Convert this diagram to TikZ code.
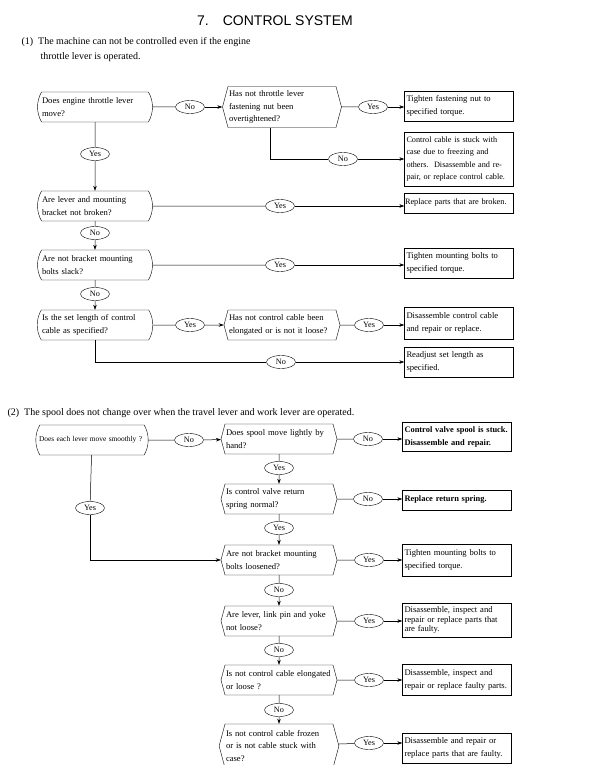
\documentclass[tikz,border=0pt]{standalone}
\usepackage{fontspec}
\setmainfont{Liberation Serif}
\newfontfamily\titlefont{Liberation Sans}
\usetikzlibrary{shapes.geometric,shapes.misc,shapes.symbols,arrows.meta}
\hyphenpenalty=10000

\begin{document}
\begin{tikzpicture}[x=1pt,y=-1pt,
  every node/.style={font=\fontsize{8.6}{12.5}\selectfont},
  ask/.style={draw,rounded rectangle,rounded rectangle arc length=60,minimum height=30pt,text width=106pt,align=left,inner xsep=3pt},
  check/.style={draw,signal,signal to=east and west,signal pointer angle=150,minimum height=30pt,text width=106pt,align=left,inner xsep=1pt},
  fix/.style={draw,rectangle,minimum height=20pt,text width=105pt,align=left,inner xsep=2pt},
  ans/.style={draw,ellipse,minimum width=29pt,minimum height=13pt,inner sep=0pt,font=\fontsize{8.2}{9}\selectfont},
  link/.style={line width=0.5pt},
  go/.style={link,-{Stealth[length=5pt,width=3.5pt]}}]
\useasboundingbox (0,0) rectangle (595,765);

\node (title) at (275,21) {\titlefont\fontsize{14}{16}\selectfont 7.\hspace{1em}CONTROL SYSTEM};

% (1) throttle
\node[anchor=west,font=\fontsize{10}{12}\selectfont] (head1a) at (18,42) {(1)\ \ The machine can not be controlled even if the engine};
\node[anchor=west,font=\fontsize{10}{12}\selectfont] (head1b) at (37,57) {throttle lever is operated.};

\node[ask] (q1) at (95,107) {Does engine throttle lever\\move?};
\node[ans] (no1) at (190,107) {No};
\node[check,minimum height=41pt] (q2) at (282,107) {Has not throttle lever\\fastening nut been\\overtightened?};
\node[ans] (yes1) at (373,107) {Yes};
\node[fix,minimum height=30pt] (fix1) at (459,106) {Tighten fastening nut to\\specified torque.};
\coordinate (q2foot) at ([xshift=-12pt]q2.south);
\node[ans] (no2) at (343,159) {No};
\node[fix,minimum height=54pt,font=\fontsize{8.2}{12.5}\selectfont] (fix2) at (459,159) {Control cable is stuck with\\case due to freezing and\\others.\ \ Disassemble and re-\\pair, or replace control cable.};

\node[ans] (yes2) at (95,154) {Yes};
\node[ask] (q3) at (95,206) {Are lever and mounting\\bracket not broken?};
\node[ans] (yes3) at (280,206) {Yes};
\node[fix,text width=108pt,inner xsep=0.5pt,font=\fontsize{8.3}{12.5}\selectfont] (fix3) at (459,203) {Replace parts that are broken.};
\node[ans] (no3) at (95,233) {No};
\node[ask] (q4) at (95,265) {Are not bracket mounting\\bolts slack?};
\node[ans] (yes4) at (280,265) {Yes};
\node[fix,minimum height=30pt] (fix4) at (459,263) {Tighten mounting bolts to\\specified torque.};
\node[ans] (no4) at (95,294) {No};
\node[ask] (q5) at (95,325) {Is the set length of control\\cable as specified?};
\node[ans] (yes5) at (190,325) {Yes};
\node[check] (q6) at (282,325) {Has not control cable been\\elongated or is not it loose?};
\node[ans] (yes6) at (369,325) {Yes};
\node[fix,minimum height=32pt] (fix5) at (459,323) {Disassemble control cable\\and repair or replace.};
\node[ans] (no5) at (281,362) {No};
\node[fix,minimum height=30pt] (fix6) at (459,362) {Readjust set length as\\specified.};

\draw[link] (q1) -- (no1);
\draw[go] (no1) -- (q2);
\draw[link] (q2) -- (yes1);
\draw[go] (yes1) -- (yes1 -| fix1.west);
\draw[link] (q2foot) |- (no2);
\draw[go] (no2) -- (no2 -| fix2.west);
\draw[link] (q1) -- (yes2);
\draw[go] (yes2) -- (q3);
\draw[link] (q3) -- (yes3);
\draw[go] (yes3) -- (yes3 -| fix3.west);
\draw[link] (q3) -- (no3);
\draw[go] (no3) -- (q4);
\draw[link] (q4) -- (yes4);
\draw[go] (yes4) -- (yes4 -| fix4.west);
\draw[link] (q4) -- (no4);
\draw[go] (no4) -- (q5);
\draw[link] (q5) -- (yes5);
\draw[go] (yes5) -- (q6);
\draw[link] (q6) -- (yes6);
\draw[go] (yes6) -- (yes6 -| fix5.west);
\draw[link] (q5.south) |- (no5);
\draw[go] (no5) -- (no5 -| fix6.west);

% (2) spool
\node[anchor=west,font=\fontsize{10}{12}\selectfont] (head2) at (4,413) {(2)\ \ The spool does not change over when the travel lever and work lever are operated.};

\node[ask,font=\fontsize{7.4}{9}\selectfont] (p1) at (92,440) {Does each lever move smoothly ?};
\node[ans] (pno1) at (189,440) {No};
\node[check] (p2) at (279,439) {Does spool move lightly by\\hand?};
\node[ans] (pno2) at (368,439) {No};
\node[fix,minimum height=29pt,font=\bfseries\fontsize{8.4}{12.5}\selectfont] (pfix1) at (457,437) {Control valve spool is stuck.\\Disassemble and repair.};
\node[ans] (pyes1) at (279,468) {Yes};
\node[check] (p3) at (279,499) {Is control valve return\\spring normal?};
\node[ans] (pno3) at (368,499) {No};
\node[fix,font=\bfseries\fontsize{8.4}{12.5}\selectfont] (pfix2) at (457,500) {Replace return spring.};
\node[ans] (pyes2) at (279,528) {Yes};
\node[ans] (pyes0) at (90,508) {Yes};
\node[check] (p4) at (279,560) {Are not bracket mounting\\bolts loosened?};
\node[ans] (pyes3) at (369,560) {Yes};
\node[fix,minimum height=32pt] (pfix3) at (457,560) {Tighten mounting bolts to\\specified torque.};
\node[ans] (pno4) at (279,590) {No};
\node[check] (p5) at (279,621) {Are lever, link pin and yoke\\not loose?};
\node[ans] (pyes4) at (369,621) {Yes};
\node[fix,minimum height=33pt,font=\fontsize{8.6}{9.5}\selectfont] (pfix4) at (457,620) {Disassemble, inspect and\\repair or replace parts that\\are faulty.};
\node[ans] (pno5) at (279,650) {No};
\node[check] (p6) at (279,680) {Is not control cable elongated\\or loose ?};
\node[ans] (pyes5) at (369,680) {Yes};
\node[fix,minimum height=31pt] (pfix5) at (457,680) {Disassemble, inspect and\\repair or replace faulty parts.};
\node[ans] (pno6) at (279,710) {No};
\node[check,minimum height=44pt] (p7) at (279,746) {Is not control cable frozen\\or is not cable stuck with\\case?};
\node[ans] (pyes6) at (369,743) {Yes};
\node[fix,minimum height=30pt] (pfix6) at (457,748) {Disassemble and repair or\\replace parts that are faulty.};

\draw[link] (p1) -- (pno1);
\draw[go] (pno1) -- (p2);
\draw[link] (p2) -- (pno2);
\draw[go] (pno2) -- (pno2 -| pfix1.west);
\draw[link] (p2) -- (pyes1);
\draw[go] (pyes1) -- (p3);
\draw[link] (p3) -- (pno3);
\draw[go] (pno3) -- (pno3 -| pfix2.west);
\draw[link] (p3) -- (pyes2);
\draw[go] (pyes2) -- (p4);
\draw[link] (p1) -- (pyes0);
\draw[go] (pyes0) |- (p4.west);
\draw[link] (p4) -- (pyes3);
\draw[go] (pyes3) -- (pyes3 -| pfix3.west);
\draw[link] (p4) -- (pno4);
\draw[go] (pno4) -- (p5);
\draw[link] (p5) -- (pyes4);
\draw[go] (pyes4) -- (pyes4 -| pfix4.west);
\draw[link] (p5) -- (pno5);
\draw[go] (pno5) -- (p6);
\draw[link] (p6) -- (pyes5);
\draw[go] (pyes5) -- (pyes5 -| pfix5.west);
\draw[link] (p6) -- (pno6);
\draw[go] (pno6) -- (p7);
\draw[link] (p7) -- (pyes6);
\draw[go] (pyes6) -- (pyes6 -| pfix6.west);
\end{tikzpicture}
\end{document}
